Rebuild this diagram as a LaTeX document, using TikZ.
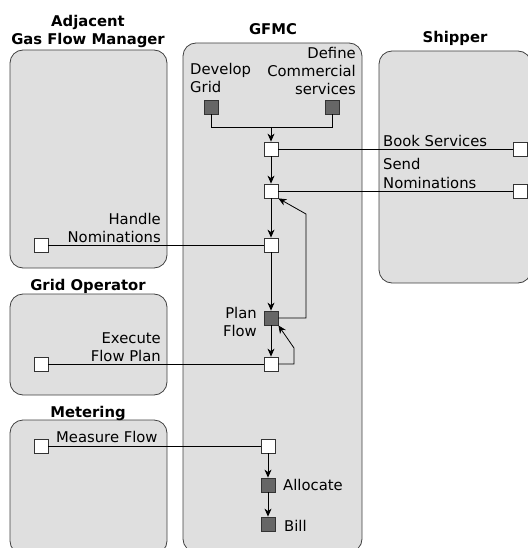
\documentclass[tikz,border=0pt]{standalone}
\usepackage{fontspec}
\setmainfont{DejaVu Sans}
\usetikzlibrary{arrows.meta}

\begin{document}
\begin{tikzpicture}[x=1pt, y=-1pt, node distance=39pt, font=\fontsize{14.8}{18}\selectfont, >={Stealth[length=8pt,width=7pt,inset=2.5pt]}]
	% Define styles
	\tikzstyle{lane} = [rectangle, draw=black!75, line width=0.8pt, fill=gray!25, rounded corners=13pt, inner sep=0pt]
	\tikzstyle{lanetitle} = [font=\fontsize{14.8}{18}\selectfont\bfseries, align=center, anchor=base, inner sep=0pt]
	\tikzstyle{task} = [rectangle, draw=black!80, line width=0.8pt, fill=white, minimum size=14pt, inner sep=0pt]
	\tikzstyle{activity} = [task, fill=black!60]
	\tikzstyle{txtl} = [inner sep=0pt, anchor=base west, align=left]
	\tikzstyle{txtr} = [inner sep=0pt, anchor=base east, align=right]
	\tikzstyle{flow} = [line width=0.8pt]

	\useasboundingbox (0,0) rectangle (527,548);

	% Lanes
	\node[lane, minimum width=157pt, minimum height=218pt] (agfm) at (88.5,159) {};
	\node[lane, minimum width=157pt, minimum height=101pt] (gop) at (88.5,344.5) {};
	\node[lane, minimum width=157pt, minimum height=134pt] (met) at (88.5,487) {};
	\node[lane, minimum width=179pt, minimum height=509pt] (gfmc) at (272.5,297.5) {};
	\node[lane, minimum width=152pt, minimum height=232pt] (ship) at (455,167) {};

	\node[lanetitle] (agfmtitle) at (88,45) {Adjacent\\Gas Flow Manager};
	\node[lanetitle] (goptitle) at (88,290) {Grid Operator};
	\node[lanetitle] (mettitle) at (88,417) {Metering};
	\node[lanetitle] (gfmctitle) at (273,35) {GFMC};
	\node[lanetitle] (shiptitle) at (455,43) {Shipper};

	% Nodes
	\node[activity] (dg) at (211,107) {};
	\node[activity] (dcs) at (332,107) {};
	\node[task] (s1) at (271,149) {};
	\node[task] (s2) at (271,191) {};
	\node[task] (s3) at (271,245) {};
	\node[activity] (pf) at (271,318) {};
	\node[task] (ex) at (271,364) {};
	\node[task] (me) at (268,446) {};
	\node[activity, below of=me] (al) {};
	\node[activity, below of=al] (bi) {};

	\node[task] (sb) at (520,149) {};
	\node[task] (sn) at (520,191) {};
	\node[task] (hn) at (41,245) {};
	\node[task] (ef) at (41,364) {};
	\node[task] (mf) at (41,446) {};

	\coordinate (join) at (271,127);
	\coordinate (fb1) at (306,214);
	\coordinate (fb2) at (294,348);

	% Labels
	\node[txtl] (dglabel) at (190,93) {Develop\\Grid};
	\node[txtr] (dcslabel) at (356,95) {Define\\Commercial\\services};
	\node[txtl] (sblabel) at (383,147) {Book Services};
	\node[txtl] (snlabel) at (383,188) {Send\\Nominations};
	\node[txtr] (hnlabel) at (161,242) {Handle\\Nominations};
	\node[txtr] (pflabel) at (257,336) {Plan\\Flow};
	\node[txtr] (eflabel) at (161,361) {Execute\\Flow Plan};
	\node[txtl] (mflabel) at (56,442) {Measure Flow};
	\node[txtl] (allabel) at (283,490) {Allocate};
	\node[txtl] (bilabel) at (284,531) {Bill};

	% Arrows
	\draw[flow] (dg.south) |- (join);
	\draw[flow] (dcs.south) |- (join);
	\draw[flow, ->] (join) -- (s1);
	\draw[flow, ->] (s1) -- (s2);
	\draw[flow, ->] (s2) -- (s3);
	\draw[flow, ->] (s3) -- (pf);
	\draw[flow, ->] (pf) -- (ex);
	\draw[flow, ->] (pf.east) -| (fb1) -- (s2.south east);
	\draw[flow, ->] (ex.east) -| (fb2) -- (pf.south east);
	\draw[flow, ->] (me) -- (al);
	\draw[flow, ->] (al) -- (bi);

	\draw[flow] (s1) -- (sb);
	\draw[flow] (s2) -- (sn);
	\draw[flow] (hn) -- (s3);
	\draw[flow] (ef) -- (ex);
	\draw[flow] (mf) -- (me);
\end{tikzpicture}
\end{document}
